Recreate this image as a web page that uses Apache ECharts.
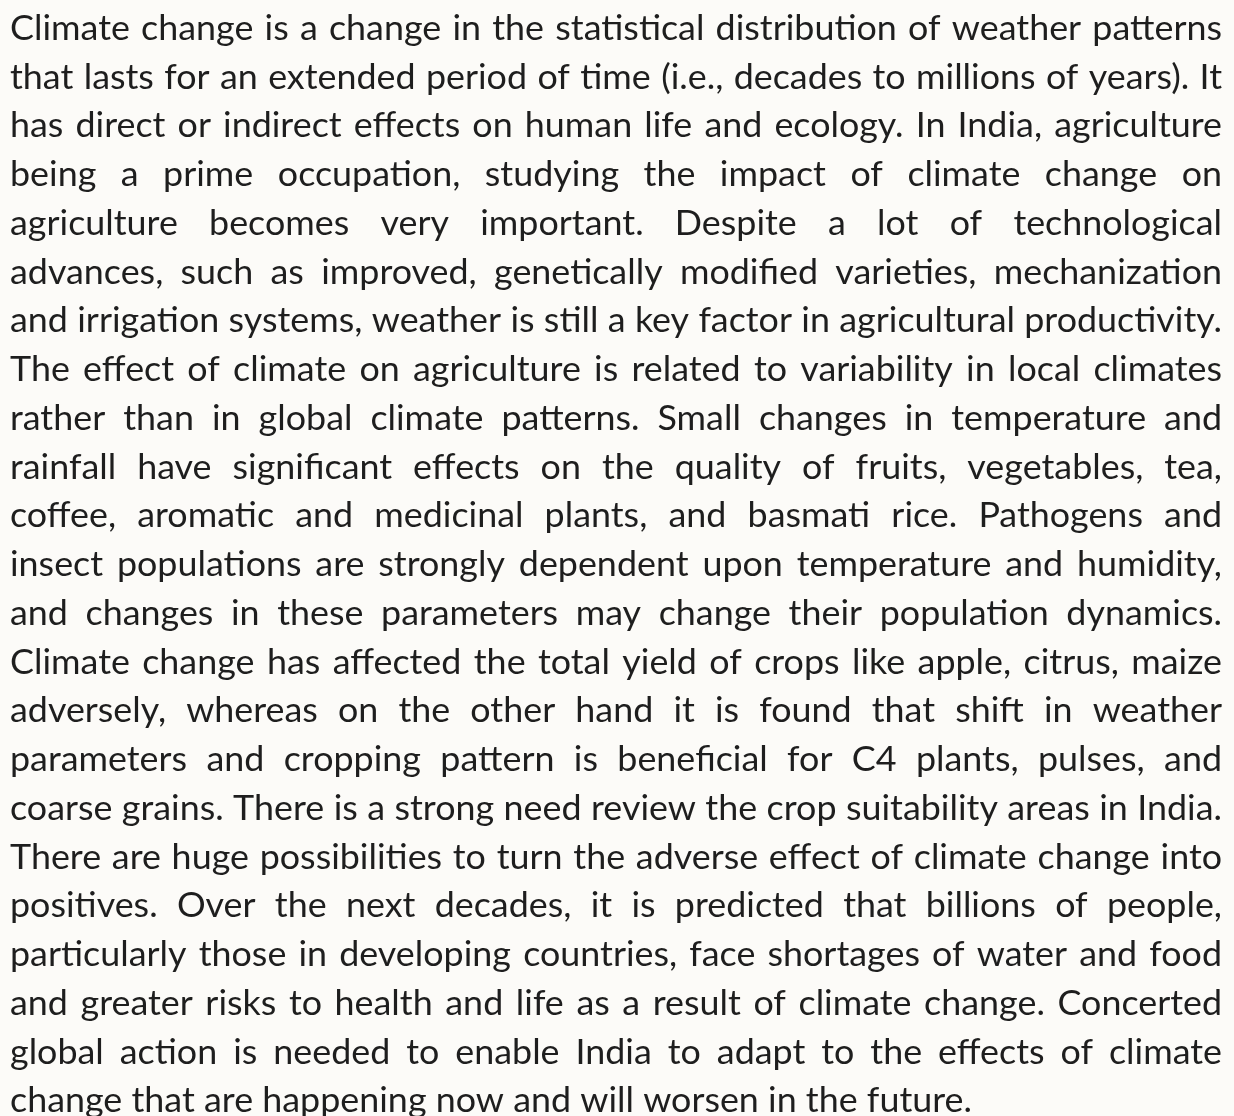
<!DOCTYPE html>
<html><head><meta charset="utf-8">
<script src="https://cdn.jsdelivr.net/npm/echarts@6/dist/echarts.min.js"></script>
<style>html,body{margin:0;padding:0;background:#fcfbf8;}#c{width:1234px;height:1116px;}</style>
</head><body><div id="c"></div>
<script>
const lines = [
"Climate change is a change in the statistical distribution of weather patterns",
"that lasts for an extended period of time (i.e., decades to millions of years). It",
"has direct or indirect effects on human life and ecology. In India, agriculture",
"being a prime occupation, studying the impact of climate change on",
"agriculture becomes very important. Despite a lot of technological",
"advances, such as improved, genetically modified varieties, mechanization",
"and irrigation systems, weather is still a key factor in agricultural productivity.",
"The effect of climate on agriculture is related to variability in local climates",
"rather than in global climate patterns. Small changes in temperature and",
"rainfall have significant effects on the quality of fruits, vegetables, tea,",
"coffee, aromatic and medicinal plants, and basmati rice. Pathogens and",
"insect populations are strongly dependent upon temperature and humidity,",
"and changes in these parameters may change their population dynamics.",
"Climate change has affected the total yield of crops like apple, citrus, maize",
"adversely, whereas on the other hand it is found that shift in weather",
"parameters and cropping pattern is beneficial for C4 plants, pulses, and",
"coarse grains. There is a strong need review the crop suitability areas in India.",
"There are huge possibilities to turn the adverse effect of climate change into",
"positives. Over the next decades, it is predicted that billions of people,",
"particularly those in developing countries, face shortages of water and food",
"and greater risks to health and life as a result of climate change. Concerted",
"global action is needed to enable India to adapt to the effects of climate",
"change that are happening now and will worsen in the future."
];
const FONT_FAMILY = 'Lato';
const FONT_SIZE = 34;
const LEFT = 10, RIGHT = 1222, FIRST_BASE = 40.5, LINE_H = 48.75;
const LAST_LINE_RIGHT = 972;
const COLOR = '#1e1e1e';

const cv = document.createElement('canvas').getContext('2d');
cv.font = FONT_SIZE + 'px ' + FONT_FAMILY;
const spaceW = cv.measureText(' ').width;
const W = RIGHT - LEFT;
function natural(ln) { return cv.measureText(ln).width; }
// global horizontal stretch so the unjustified last line spans like the reference
const SX = (LAST_LINE_RIGHT - LEFT) / natural(lines[lines.length - 1]);
const elements = [];
lines.forEach((ln, i) => {
  const words = ln.split(' ');
  const widths = words.map(w => cv.measureText(w).width * SX);
  const sum = widths.reduce((a, b) => a + b, 0);
  const last = i === lines.length - 1;
  let gap = spaceW * SX, scale = 1;
  const nat = sum + gap * (words.length - 1);
  if (nat > W) { scale = W / nat; }
  else if (!last) { gap = (W - sum) / (words.length - 1); }
  const yMid = FIRST_BASE + i * LINE_H - FONT_SIZE * 0.34;
  let x = LEFT;
  words.forEach((w, k) => {
    elements.push({
      type: 'text', x: x, y: yMid, scaleX: SX * scale, silent: true,
      style: { x: 0, y: 0, text: w, fill: COLOR, font: FONT_SIZE + 'px ' + FONT_FAMILY, verticalAlign: 'middle', align: 'left' }
    });
    x += (widths[k] + gap) * scale;
  });
});
const chart = echarts.init(document.getElementById('c'), null, {renderer: 'canvas'});
chart.setOption({ backgroundColor: '#fcfbf8', animation: false, graphic: { elements: elements } });
</script></body></html>
